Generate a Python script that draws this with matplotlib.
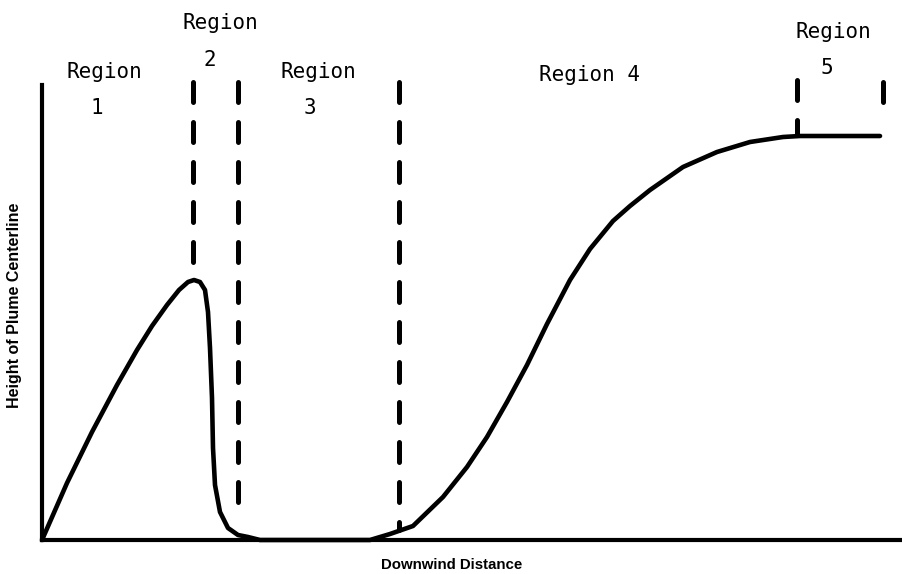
import numpy as np
import matplotlib
matplotlib.use("Agg")
from matplotlib import pyplot as plt

# plume centerline height vs downwind distance (units)
DISTANCE = [0, 25, 50, 75, 95, 110, 125, 137, 146, 152, 158, 163, 166, 168, 170, 171, 173,
            178, 186, 196, 206, 218,
            328, 348, 371, 401, 425, 445, 465, 485, 505, 528, 548, 571, 588, 608, 641,
            675, 708, 741, 758, 838]
HEIGHT = [0, 57, 108, 155, 190, 214, 235, 250, 258, 260, 258, 250, 228, 192, 142, 92, 55,
          28, 12, 5, 3, 0,
          0, 6, 14, 43, 73, 103, 138, 175, 216, 260, 291, 319, 334, 350, 373,
          388, 398, 403, 404, 404]

# region boundary markers
BOUNDARY_X = [151, 196, 357, 755, 841]
BOUNDARY_TOP = [458, 458, 458, 460, 458]
BOUNDARY_BOTTOM = [278, 22, 10, 406, 421]

REGION_LABELS = ["Region", "1", "Region", "2", "Region", "3", "Region 4", "Region", "5"]
LABEL_X = [62, 55, 178, 168, 276, 268, 548, 791, 785]
LABEL_Y = [468, 432, 517, 480, 468, 432, 465, 508, 472]

fig = plt.figure(figsize=(9.03, 5.74), dpi=100)
ax = fig.add_axes([42 / 903, 34 / 574, 861 / 903, 540 / 574])
ax.set_xlim(0, 861)
ax.set_ylim(0, 540)

for side in ["top", "right"]:
    ax.spines[side].set_visible(False)
ax.spines["left"].set_linewidth(3.0)
ax.spines["bottom"].set_linewidth(3.0)
ax.spines["left"].set_bounds(0, 455)
ax.set_xticks([])
ax.set_yticks([])

ax.plot(DISTANCE, HEIGHT, color="black", lw=3.3, solid_capstyle="round",
        solid_joinstyle="round", clip_on=False)

for x, top, bottom in zip(BOUNDARY_X, BOUNDARY_TOP, BOUNDARY_BOTTOM):
    ax.plot([x, x], [top, bottom], color="black", lw=3.6, dashes=(4, 4),
            dash_capstyle="round", clip_on=False)

for txt, x, y in zip(REGION_LABELS, LABEL_X, LABEL_Y):
    ax.text(x, y, txt, ha="center", va="center", fontsize=15,
            family="DejaVu Sans Mono", clip_on=False)

fig.text(15 / 903, 1 - 305 / 574, "Height of Plume Centerline", rotation=90,
         ha="center", va="center", fontsize=11.5, fontweight="bold",
         family="Liberation Sans")
fig.text(452 / 903, 1 - 565 / 574, "Downwind Distance", ha="center", va="center",
         fontsize=10.8, fontweight="bold", family="Liberation Sans")

fig.savefig("out.png", dpi=100)
